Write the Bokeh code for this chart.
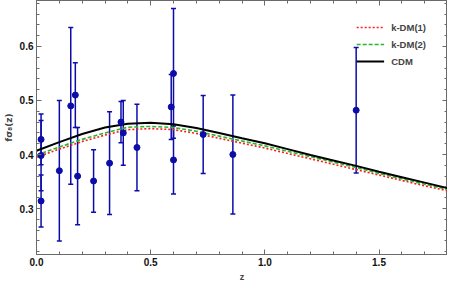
from bokeh.plotting import figure
from bokeh.models import (ColumnDataSource, Whisker, TeeHead, LinearAxis, SingleIntervalTicker,
                          PrintfTickFormatter, Range1d, Legend, LegendItem)
from bokeh.embed import file_html
from bokeh.resources import INLINE

# ---- data: observed f*sigma8(z) points ----
z_data = [0.02, 0.02, 0.02, 0.10, 0.15, 0.17, 0.18, 0.25, 0.32, 0.37, 0.38, 0.44,
          0.59, 0.60, 0.60, 0.73, 0.86, 1.40]
fs8_data = [0.428, 0.398, 0.314, 0.370, 0.490, 0.510, 0.360, 0.351, 0.384, 0.460, 0.440, 0.413,
            0.488, 0.550, 0.390, 0.437, 0.400, 0.482]
fs8_err = [0.047, 0.065, 0.048, 0.130, 0.145, 0.060, 0.090, 0.058, 0.095, 0.038, 0.060, 0.080,
           0.060, 0.120, 0.063, 0.072, 0.110, 0.116]

# ---- theory curves ----
z_curve = [0.0, 0.1, 0.2, 0.3, 0.4, 0.5, 0.6, 0.7, 0.8, 0.9, 1.0, 1.1, 1.2, 1.3, 1.4, 1.5, 1.6, 1.7, 1.8]
cdm = [0.407, 0.423, 0.438, 0.450, 0.457, 0.459, 0.456, 0.449, 0.440, 0.430, 0.421, 0.410,
       0.399, 0.389, 0.379, 0.368, 0.358, 0.348, 0.338]
kdm2 = [0.399, 0.414, 0.428, 0.440, 0.4505, 0.452, 0.450, 0.443, 0.434, 0.425, 0.416, 0.406,
        0.396, 0.386, 0.376, 0.365, 0.355, 0.345, 0.3355]
kdm1 = [0.395, 0.410, 0.424, 0.436, 0.446, 0.448, 0.446, 0.439, 0.430, 0.421, 0.412, 0.402,
        0.392, 0.382, 0.372, 0.362, 0.352, 0.342, 0.333]

x_ticks_interval = 0.5
y_ticks_interval = 0.1

FONT = "Liberation Sans"
BLUE = "#0c0ca8"
FRAME = "#6a6a6a"

p = figure(width=447, height=284, output_backend="svg", toolbar_location=None,
           x_range=Range1d(0, 1.8), y_range=Range1d(0.215, 0.685),
           min_border_left=2, min_border_right=0, min_border_top=0, min_border_bottom=0)
p.xgrid.visible = False
p.ygrid.visible = False
p.outline_line_color = FRAME
p.background_fill_color = "white"
p.border_fill_color = "white"

l1 = p.line(z_curve, kdm1, line_color="#ff1a1a", line_width=1.6, line_dash="2 2")
l2 = p.line(z_curve, kdm2, line_color="#2cb52c", line_width=1.6, line_dash="4 2")
l3 = p.line(z_curve, cdm, line_color="black", line_width=2)

src = ColumnDataSource(dict(z=z_data, f=fs8_data,
                            up=[f + e for f, e in zip(fs8_data, fs8_err)],
                            lo=[f - e for f, e in zip(fs8_data, fs8_err)]))
wh = Whisker(base="z", upper="up", lower="lo", source=src, line_color=BLUE, line_width=1.5,
             upper_head=TeeHead(size=5, line_color=BLUE, line_width=1.5),
             lower_head=TeeHead(size=5, line_color=BLUE, line_width=1.5))
p.add_layout(wh)
p.scatter("z", "f", source=src, size=6, fill_color=BLUE, line_color=BLUE)

def style_axis(ax, labels=True):
    ax.axis_line_color = FRAME
    ax.major_tick_line_color = FRAME
    ax.minor_tick_line_color = FRAME
    ax.major_tick_in = 5
    ax.major_tick_out = 0
    ax.minor_tick_in = 3
    ax.minor_tick_out = 0
    ax.major_label_text_font = FONT
    ax.major_label_text_font_style = "bold"
    if labels:
        ax.major_label_text_font_size = "10px"
        ax.major_label_text_color = "#111111"
        ax.major_label_standoff = 3
    else:
        ax.major_label_text_font_size = "0px"
        ax.major_label_text_color = None
        ax.major_label_standoff = 0
    ax.axis_label_text_font = FONT
    ax.axis_label_text_font_style = "bold"
    ax.axis_label_text_font_size = "9px"
    ax.axis_label_standoff = 3

xt = SingleIntervalTicker(interval=x_ticks_interval, num_minor_ticks=5)
yt = SingleIntervalTicker(interval=y_ticks_interval, num_minor_ticks=5)

p.xaxis.ticker = xt
p.yaxis.ticker = yt
p.xaxis.formatter = PrintfTickFormatter(format="%.1f")
p.yaxis.formatter = PrintfTickFormatter(format="%.1f")
p.xaxis.axis_label = "z"
p.yaxis.axis_label = "fσ₈(z)"
style_axis(p.xaxis[0])
style_axis(p.yaxis[0])
p.yaxis[0].axis_label_text_font = "DejaVu Sans"

top = LinearAxis(ticker=SingleIntervalTicker(interval=x_ticks_interval, num_minor_ticks=5))
right = LinearAxis(ticker=SingleIntervalTicker(interval=y_ticks_interval, num_minor_ticks=5))
style_axis(top, labels=False)
style_axis(right, labels=False)
p.add_layout(top, "above")
p.add_layout(right, "right")

legend = Legend(items=[LegendItem(label="k-DM(1)", renderers=[l1]),
                       LegendItem(label="k-DM(2)", renderers=[l2]),
                       LegendItem(label="CDM", renderers=[l3])],
                location="top_right")
legend.background_fill_alpha = 0
legend.border_line_alpha = 0
legend.label_text_font = FONT
legend.label_text_font_style = "bold"
legend.label_text_font_size = "9.5px"
legend.glyph_width = 28
legend.glyph_height = 12
legend.spacing = 5
legend.label_standoff = 7
legend.margin = 12
legend.padding = 9
p.add_layout(legend)

open("out.html", "w").write(file_html(p, INLINE))
